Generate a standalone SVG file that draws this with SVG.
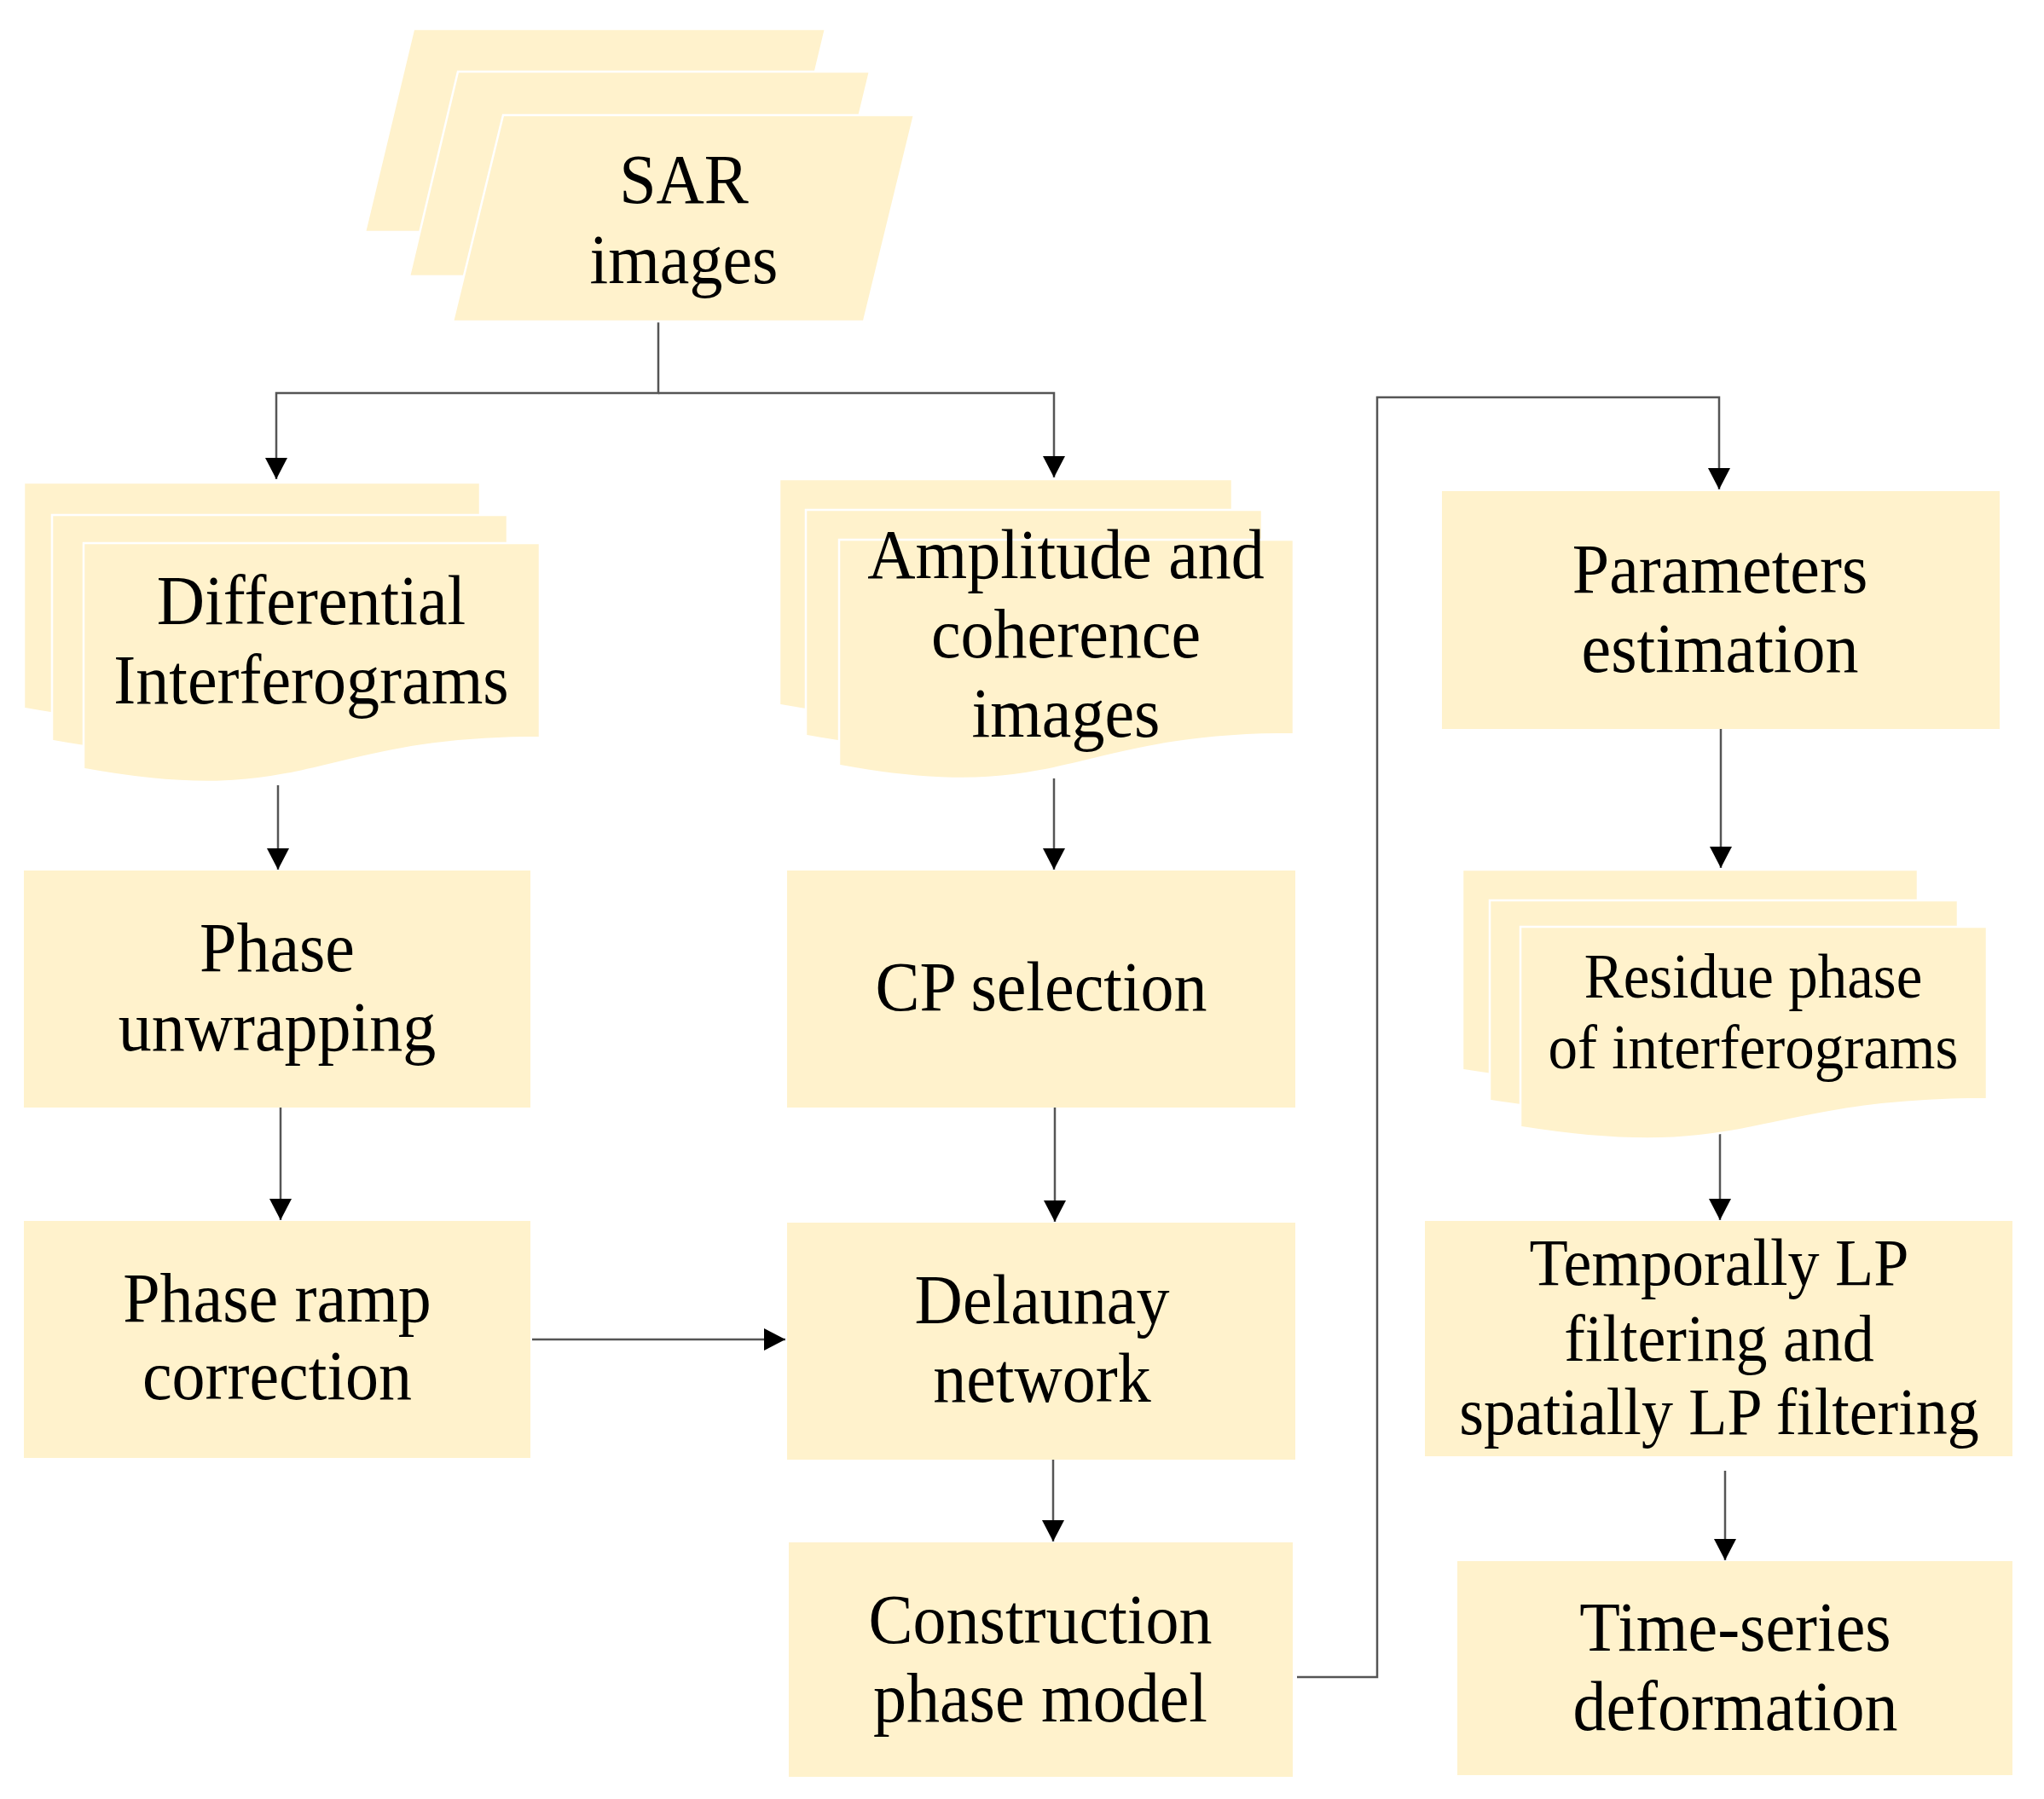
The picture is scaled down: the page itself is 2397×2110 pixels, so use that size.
<svg xmlns="http://www.w3.org/2000/svg" width="2397" height="2110" viewBox="0 0 2397 2110">
<style>
.box{fill:#FFF2CC;}
.lay{fill:#FFF2CC;stroke:#FFFFFF;stroke-width:2.5;}
.t{font-family:"Liberation Serif","Times New Roman",serif;font-size:78px;fill:#000;text-anchor:middle;}
.sm{font-size:69px;}
.md{font-size:74px;}
.c{fill:none;stroke:#555;stroke-width:2.5;marker-end:url(#ah);}
.cn{fill:none;stroke:#555;stroke-width:2.5;}
</style>
<defs>
<marker id="ah" markerUnits="userSpaceOnUse" markerWidth="26" markerHeight="26" refX="25" refY="13" orient="auto">
<path d="M0,0 L25,13 L0,26 z" fill="#000"/>
</marker>
</defs>
<rect width="2397" height="2110" fill="#fff"/>

<g id="connectors">
<path class="c" d="M772,377 V461 H324 V562"/>
<path class="c" d="M772,461 H1236 V560"/>
<path class="c" d="M326,921 V1020"/>
<path class="c" d="M329,1299 V1431"/>
<path class="c" d="M624,1571 H921"/>
<path class="c" d="M1236,913 V1020"/>
<path class="c" d="M1237,1299 V1433"/>
<path class="c" d="M1235,1712 V1808"/>
<path class="c" d="M1521,1967 H1615 V466 H2016 V574"/>
<path class="c" d="M2018,855 V1018"/>
<path class="c" d="M2017,1330 V1431"/>
<path class="c" d="M2023,1725 V1830"/>
</g>

<g id="sar-images">
<polygon class="lay" points="485,34 968,34 911,272 428,272"/>
<polygon class="lay" points="537,84 1020,84 962,324 480,324"/>
<polygon class="lay" points="590,135 1072,135 1013,377 531,377"/>
<text class="t" transform="translate(802,238) scale(1,1.07)"><tspan x="0" y="0">SAR</tspan><tspan x="0" y="88">images</tspan></text>
</g>

<g id="differential-interferograms">
<path class="lay" d="M28,566 H563 V794 C295.5,794 295.5,880 28,831 Z"/>
<path class="lay" d="M61,604 H595 V832 C328,832 328,918 61,869 Z"/>
<path class="lay" d="M98,637 H633 V865 C365.5,865 365.5,951 98,902 Z"/>
<text class="t" transform="translate(365,732) scale(1,1.07)"><tspan x="0" y="0">Differential</tspan><tspan x="0" y="87">Interferograms</tspan></text>
</g>

<g id="amplitude-coherence">
<path class="lay" d="M914,562 H1445 V790 C1179.5,790 1179.5,876 914,827 Z"/>
<path class="lay" d="M945,598 H1480 V826 C1212.5,826 1212.5,912 945,863 Z"/>
<path class="lay" d="M984,633 H1517 V861 C1250.5,861 1250.5,947 984,898 Z"/>
<text class="t" transform="translate(1250,678) scale(1,1.07)"><tspan x="0" y="0">Amplitude and</tspan><tspan x="0" y="87">coherence</tspan><tspan x="0" y="174">images</tspan></text>
</g>

<g id="phase-unwrapping">
<rect class="box" x="28" y="1021" width="594" height="278"/>
<text class="t" transform="translate(325,1139) scale(1,1.07)"><tspan x="0" y="0">Phase</tspan><tspan x="0" y="87">unwrapping</tspan></text>
</g>

<g id="cp-selection">
<rect class="box" x="923" y="1021" width="596" height="278"/>
<text class="t" transform="translate(1221,1185) scale(1,1.07)"><tspan x="0" y="0">CP selection</tspan></text>
</g>

<g id="phase-ramp">
<rect class="box" x="28" y="1432" width="594" height="278"/>
<text class="t" transform="translate(325,1550) scale(1,1.07)"><tspan x="0" y="0">Phase ramp</tspan><tspan x="0" y="85">correction</tspan></text>
</g>

<g id="delaunay">
<rect class="box" x="923" y="1434" width="596" height="278"/>
<text class="t" transform="translate(1222,1552) scale(1,1.07)"><tspan x="0" y="0">Delaunay</tspan><tspan x="0" y="86">network</tspan></text>
</g>

<g id="construction">
<rect class="box" x="925" y="1809" width="591" height="275"/>
<text class="t" transform="translate(1220,1927) scale(1,1.07)"><tspan x="0" y="0">Construction</tspan><tspan x="0" y="86">phase model</tspan></text>
</g>

<g id="parameters">
<rect class="box" x="1691" y="576" width="654" height="279"/>
<text class="t" transform="translate(2017,695) scale(1,1.07)"><tspan x="0" y="0">Parameters</tspan><tspan x="0" y="87">estimation</tspan></text>
</g>

<g id="residue-phase">
<path class="lay" d="M1715,1020 H2249 V1222 C1982,1222 1982,1299 1715,1255 Z"/>
<path class="lay" d="M1747,1056 H2296 V1258 C2021.5,1258 2021.5,1335 1747,1291 Z"/>
<path class="lay" d="M1783,1087 H2330 V1289 C2056.5,1289 2056.5,1366 1783,1322 Z"/>
<text class="t sm" transform="translate(2056,1170) scale(1,1.07)"><tspan x="0" y="0">Residue phase</tspan><tspan x="0" y="78">of interferograms</tspan></text>
</g>

<g id="temporally-filtering">
<rect class="box" x="1671" y="1432" width="689" height="276"/>
<text class="t md" transform="translate(2016,1507) scale(1,1.07)"><tspan x="0" y="0">Temporally LP</tspan><tspan x="0" y="83">filtering and</tspan><tspan x="0" y="164">spatially LP filtering</tspan></text>
</g>

<g id="time-series">
<rect class="box" x="1709" y="1831" width="651" height="251"/>
<text class="t" transform="translate(2035,1936) scale(1,1.07)"><tspan x="0" y="0">Time-series</tspan><tspan x="0" y="87">deformation</tspan></text>
</g>
</svg>
